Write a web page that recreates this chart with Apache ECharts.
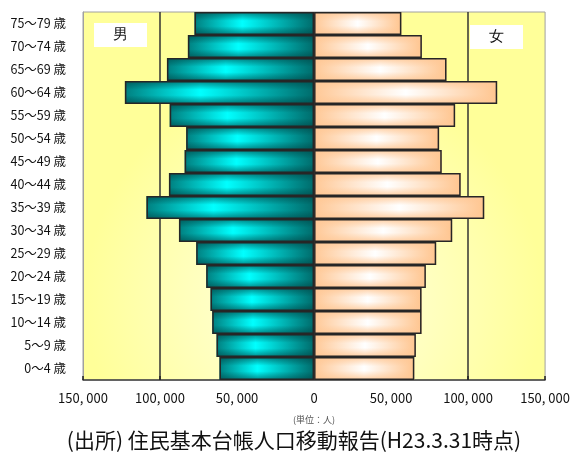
<!DOCTYPE html>
<html>
<head>
<meta charset="utf-8">
<script src="https://cdn.jsdelivr.net/npm/echarts@6/dist/echarts.min.js"></script>
<style>
  html, body { margin: 0; padding: 0; background: #fff; }
  #chart { width: 573px; height: 455px; }
</style>
</head>
<body>
<div id="chart"></div>
<script>
// 年齢階級（下から上へ）
const ageGroups = ['0～4 歳', '5～9 歳', '10～14 歳', '15～19 歳', '20～24 歳', '25～29 歳',
  '30～34 歳', '35～39 歳', '40～44 歳', '45～49 歳', '50～54 歳', '55～59 歳',
  '60～64 歳', '65～69 歳', '70～74 歳', '75～79 歳'];

// 男性人口（人）
const malePop = [61400, 63300, 66100, 67200, 70000, 76500, 87700, 108800,
  94200, 84000, 83000, 93700, 122800, 95500, 81900, 77600];

// 女性人口（人）
const femalePop = [65100, 66100, 69800, 69800, 72600, 79300, 89700, 110500,
  95200, 82900, 81200, 91600, 118900, 86000, 70000, 56700];

// 横軸の目盛
const axisMax = 150000;
const axisStep = 50000;

const caption = '(出所) 住民基本台帳人口移動報告(H23.3.31時点)';
const unitLabel = '(単位：人)';

const jpFont = '"Noto Sans CJK JP", "Noto Sans", sans-serif';

const maleNeg = malePop.map(v => -v);

function fmtTick(v) {
  const a = Math.abs(v);
  if (a === 0) return '0';
  return a.toLocaleString('en-US').replace(/,/g, ', ');
}

const maleBase = {
  type: 'linear', x: 0, y: 0, x2: 1, y2: 0,
  colorStops: [
    { offset: 0, color: '#008080' },
    { offset: 0.4, color: '#00ffff' },
    { offset: 1, color: '#006b6b' }
  ]
};
const maleShade = {
  type: 'linear', x: 0, y: 0, x2: 0, y2: 1,
  colorStops: [
    { offset: 0, color: 'rgba(0,70,70,0.65)' },
    { offset: 0.38, color: 'rgba(0,70,70,0)' },
    { offset: 0.62, color: 'rgba(0,70,70,0)' },
    { offset: 1, color: 'rgba(0,70,70,0.65)' }
  ]
};
const femaleBase = {
  type: 'linear', x: 0, y: 0, x2: 1, y2: 0,
  colorStops: [
    { offset: 0, color: '#ffc896' },
    { offset: 0.5, color: '#ffffff' },
    { offset: 1, color: '#ffc58f' }
  ]
};
const femaleShade = {
  type: 'linear', x: 0, y: 0, x2: 0, y2: 1,
  colorStops: [
    { offset: 0, color: 'rgba(255,200,150,0.9)' },
    { offset: 0.4, color: 'rgba(255,200,150,0)' },
    { offset: 0.6, color: 'rgba(255,200,150,0)' },
    { offset: 1, color: 'rgba(255,200,150,0.9)' }
  ]
};

const chart = echarts.init(document.getElementById('chart'), null, { renderer: 'canvas' });

chart.setOption({
  animation: false,
  textStyle: { fontFamily: jpFont },
  grid: {
    left: 83, right: 26, top: 12, bottom: 75,
    show: true,
    borderColor: '#a0a0a0',
    borderWidth: 1,
    backgroundColor: {
      type: 'radial', x: 0.5, y: 0.78, r: 0.62,
      colorStops: [
        { offset: 0, color: '#ffffee' },
        { offset: 0.45, color: '#ffffc4' },
        { offset: 1, color: '#ffff99' }
      ]
    }
  },
  xAxis: {
    type: 'value',
    min: -axisMax, max: axisMax, interval: axisStep,
    axisLine: { show: true, lineStyle: { color: '#404040', width: 1.5 } },
    axisTick: { show: true, inside: true, length: 4, lineStyle: { color: '#222', width: 1.5 } },
    axisLabel: {
      formatter: fmtTick, color: '#111', fontSize: 13, margin: 12,
      fontFamily: jpFont
    },
    splitLine: {
      show: true,
      lineStyle: {
        color: ['transparent', '#333', 'transparent', 'transparent', 'transparent', '#333', 'transparent'],
        width: 1.5
      }
    },
    name: unitLabel,
    nameLocation: 'middle',
    nameGap: 35,
    nameTextStyle: { fontSize: 9, color: '#555', fontFamily: jpFont }
  },
  yAxis: {
    type: 'category',
    data: ageGroups,
    axisLine: { show: true, onZero: false, lineStyle: { color: '#a0a0a0', width: 1 } },
    axisTick: { show: false },
    axisLabel: { color: '#111', fontSize: 12.5, margin: 17, fontFamily: jpFont }
  },
  series: [
    {
      name: '男', type: 'bar', data: maleNeg,
      barWidth: '100%', barGap: '-100%',
      itemStyle: { color: maleBase, borderWidth: 0 }
    },
    {
      name: '女', type: 'bar', data: femalePop,
      barWidth: '100%', barGap: '-100%',
      itemStyle: { color: femaleBase, borderWidth: 0 }
    },
    {
      name: '男 shade', type: 'bar', data: maleNeg,
      barWidth: '100%', barGap: '-100%',
      itemStyle: { color: maleShade, borderColor: '#262626', borderWidth: 1.5 }
    },
    {
      name: '女 shade', type: 'bar', data: femalePop,
      barWidth: '100%', barGap: '-100%',
      itemStyle: { color: femaleShade, borderColor: '#262626', borderWidth: 1.5 }
    }
  ],
  graphic: [
    {
      type: 'group', left: 94, top: 23,
      children: [
        { type: 'rect', shape: { x: 0, y: 0, width: 53, height: 24 }, style: { fill: '#fff' } },
        { type: 'text', x: 26.5, y: 12, style: { text: '男', fontSize: 15, fill: '#111', font: '15px ' + jpFont, align: 'center', verticalAlign: 'middle' } }
      ]
    },
    {
      type: 'group', left: 470, top: 25,
      children: [
        { type: 'rect', shape: { x: 0, y: 0, width: 53, height: 24 }, style: { fill: '#fff' } },
        { type: 'text', x: 26.5, y: 12, style: { text: '女', fontSize: 15, fill: '#111', font: '15px ' + jpFont, align: 'center', verticalAlign: 'middle' } }
      ]
    },
    {
      type: 'text', x: 294, y: 440,
      style: { text: caption, font: '21px ' + jpFont, fill: '#111', align: 'center', verticalAlign: 'middle' }
    }
  ]
});
</script>
</body>
</html>
